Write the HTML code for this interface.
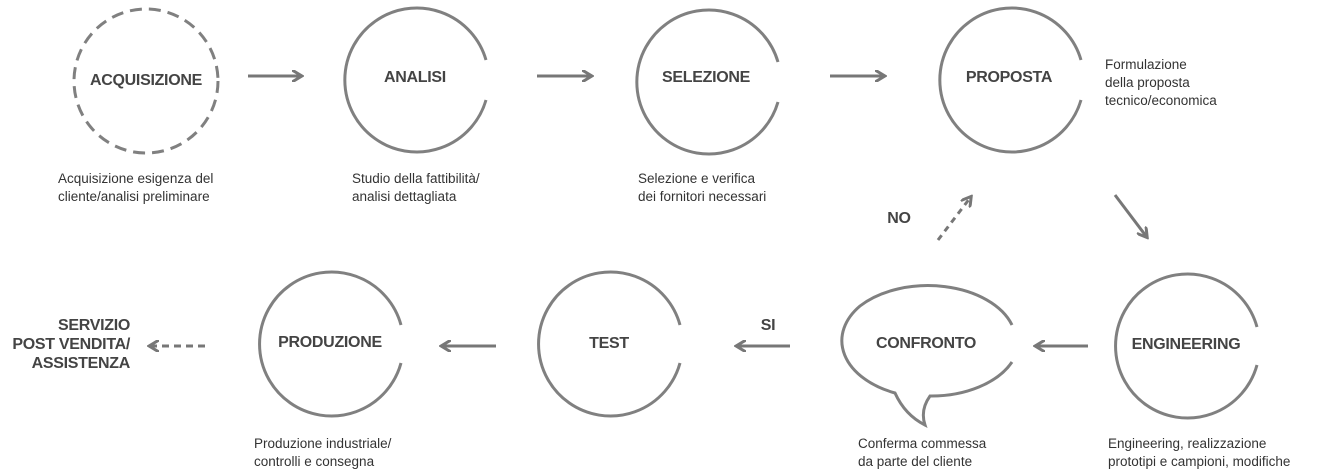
<!DOCTYPE html>
<html><head><style>
body{margin:0;width:1322px;height:468px;background:#fff;overflow:hidden;position:relative;font-family:"Liberation Sans",sans-serif;}
.t{position:absolute;font-size:13.5px;color:#333;line-height:18px;}
.l{position:absolute;font-size:16px;color:#444;font-weight:bold;letter-spacing:-0.3px;transform:translate(-50%,-50%);white-space:nowrap;}
</style></head><body>
<svg width="1322" height="468" style="position:absolute;left:0;top:0">
<defs><marker id="b" markerWidth="12" markerHeight="12" refX="8" refY="6" orient="auto" markerUnits="userSpaceOnUse"><path d="M0,0 L10,6 L0,12" fill="none" stroke="#777" stroke-width="3"/></marker></defs>
<g fill="none" stroke="#808080" stroke-width="3">
<circle cx="146" cy="81" r="72" stroke-dasharray="12 7"/>
<path d="M486,60 A72,72 0 1 0 486,100"/>
<path d="M778,62 A72,72 0 1 0 778,102"/>
<path d="M1081,60 A72,72 0 1 0 1081,100"/>
<path d="M401,325 A72,72 0 1 0 401,363"/>
<path d="M680,325 A72,72 0 1 0 680,363"/>
<path d="M1257,327 A72,72 0 1 0 1257,365"/>
<path d="M1012,325 A88,56 0 0 0 860,306 A88,57 0 0 0 895,393 Q905,415 925,425 Q920,410 930,396 A88,57 0 0 0 1012,362"/>
</g>
<g stroke="#777" stroke-width="3" marker-end="url(#b)">
<line x1="248" y1="76" x2="300" y2="76"/>
<line x1="537" y1="76" x2="590" y2="76"/>
<line x1="830" y1="76" x2="883" y2="76"/>
<line x1="1115" y1="195" x2="1146" y2="236"/>
<line x1="1088" y1="346" x2="1037" y2="346"/>
<line x1="790" y1="346" x2="738" y2="346"/>
<line x1="496" y1="346" x2="443" y2="346"/>
<line x1="205" y1="346" x2="151" y2="346" stroke-dasharray="7 5"/>
<line x1="938" y1="240" x2="970" y2="198" stroke-dasharray="6 5"/>
</g>
</svg>
<div class="l" style="left:146px;top:81px">ACQUISIZIONE</div>
<div class="l" style="left:415px;top:78px">ANALISI</div>
<div class="l" style="left:706px;top:78px">SELEZIONE</div>
<div class="l" style="left:1009px;top:78px">PROPOSTA</div>
<div class="l" style="left:330px;top:343px">PRODUZIONE</div>
<div class="l" style="left:609px;top:344px">TEST</div>
<div class="l" style="left:926px;top:344px">CONFRONTO</div>
<div class="l" style="left:1186px;top:345px">ENGINEERING</div>
<div class="l" style="left:768px;top:326px">SI</div>
<div class="l" style="left:899px;top:219px">NO</div>
<div class="l" style="right:1192px;left:auto;top:316px;transform:none;text-align:right;line-height:19px">SERVIZIO<br>POST VENDITA/<br>ASSISTENZA</div>
<div class="t" style="left:58px;top:170px">Acquisizione esigenza del<br>cliente/analisi preliminare</div>
<div class="t" style="left:352px;top:170px">Studio della fattibilità/<br>analisi dettagliata</div>
<div class="t" style="left:638px;top:170px">Selezione e verifica<br>dei fornitori necessari</div>
<div class="t" style="left:1105px;top:56px">Formulazione<br>della proposta<br>tecnico/economica</div>
<div class="t" style="left:254px;top:435px">Produzione industriale/<br>controlli e consegna</div>
<div class="t" style="left:858px;top:435px">Conferma commessa<br>da parte del cliente</div>
<div class="t" style="left:1108px;top:435px">Engineering, realizzazione<br>prototipi e campioni, modifiche</div>
</body></html>
